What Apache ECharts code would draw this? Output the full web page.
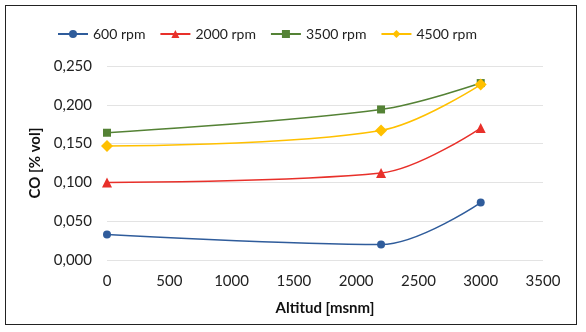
<!DOCTYPE html>
<html>
<head>
<meta charset="utf-8">
<script src="https://cdn.jsdelivr.net/npm/echarts@6/dist/echarts.min.js"></script>
<style>
  html, body { margin: 0; padding: 0; background: #fff; }
  #frame { position: absolute; left: 5px; top: 5px; width: 572px; height: 320px; border: 1px solid #222; box-sizing: border-box; }
  #chart { position: absolute; left: 0; top: 0; width: 586px; height: 332px; }
</style>
</head>
<body>
<div id="frame"></div>
<div id="chart"></div>
<script>
  // datos
  const altitudes = [0, 2200, 3000];
  const seriesNames = ['600 rpm', '2000 rpm', '3500 rpm', '4500 rpm'];
  const co600 = [0.033, 0.020, 0.074];
  const co2000 = [0.100, 0.112, 0.170];
  const co3500 = [0.164, 0.194, 0.228];
  const co4500 = [0.147, 0.167, 0.226];

  const colors = ['#2F5C9B', '#E8302A', '#548235', '#FFC000'];
  const symbols = ['circle', 'triangle', 'rect', 'diamond'];
  const symbolSizes = [8, 10, 8, 12];
  const values = [co600, co2000, co3500, co4500];

  const fmt = v => v.toFixed(3).replace('.', ',');
  const font = 'Lato, "Open Sans", sans-serif';

  const chart = echarts.init(document.getElementById('chart'));
  chart.setOption({
    animation: false,
    textStyle: { fontFamily: font },
    legend: {
      top: 22,
      left: 52,
      itemWidth: 30,
      itemHeight: 10,
      itemGap: 14,
      textStyle: { fontSize: 14, color: '#222', fontFamily: font },
      data: seriesNames
    },
    grid: { left: 107, right: 43, top: 66, bottom: 72 },
    xAxis: {
      type: 'value',
      min: 0, max: 3500, interval: 500,
      name: 'Altitud [msnm]',
      nameLocation: 'middle',
      nameGap: 41,
      nameTextStyle: { fontSize: 15, fontWeight: 'bold', color: '#111', fontFamily: font },
      axisLine: { show: false },
      axisTick: { show: false },
      splitLine: { show: false },
      axisLabel: { fontSize: 15, color: '#222', margin: 14, formatter: v => String(v) }
    },
    yAxis: {
      type: 'value',
      min: 0, max: 0.25, interval: 0.05,
      name: 'CO [% vol]',
      nameLocation: 'middle',
      nameGap: 64,
      nameTextStyle: { fontSize: 15, fontWeight: 'bold', color: '#111', fontFamily: font },
      axisLine: { show: false },
      axisTick: { show: false },
      splitLine: { lineStyle: { color: '#e3e3e3', width: 1 } },
      axisLabel: { fontSize: 15, color: '#222', margin: 15, formatter: fmt }
    },
    series: seriesNames.map((name, i) => ({
      name: name,
      type: 'line',
      smooth: 0.35,
      symbol: symbols[i],
      symbolSize: symbolSizes[i],
      color: colors[i],
      lineStyle: { width: 1.5 },
      data: altitudes.map((a, k) => [a, values[i][k]])
    }))
  });
</script>
</body>
</html>
